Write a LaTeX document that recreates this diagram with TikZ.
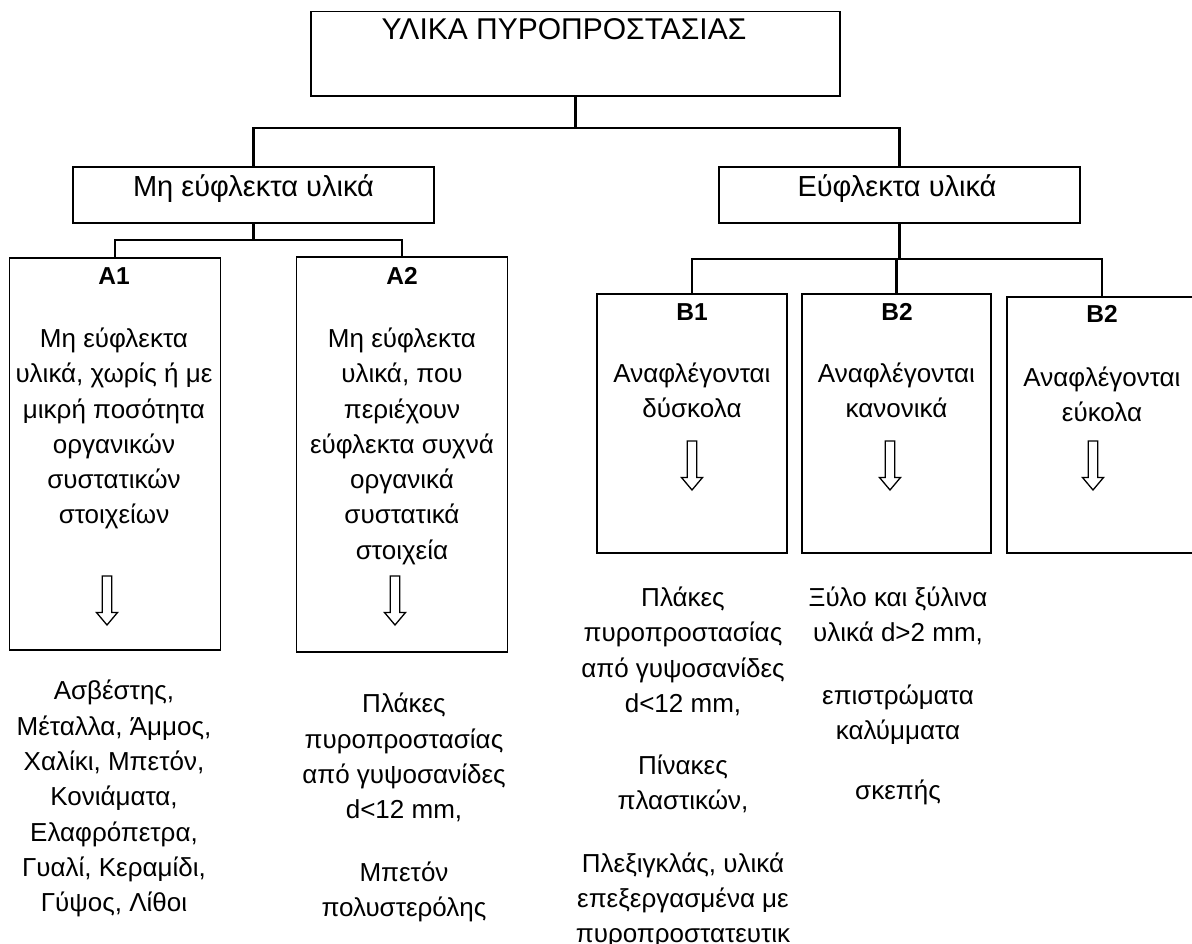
\documentclass[tikz,border=0pt]{standalone}
\usepackage{fontspec}
\setmainfont{Liberation Sans}
\begin{document}
\begin{tikzpicture}[x=1pt,y=-1pt,
  box/.style={draw, line width=1.6pt, inner sep=0pt},
  conn/.style={line width=2.1pt},
  txt/.style={font=\fontsize{26}{35.3}\selectfont, align=center, inner sep=0pt, anchor=north},
  one/.style={font=\fontsize{26}{35}\selectfont, inner sep=0pt, anchor=base},
  big/.style={font=\fontsize{29}{35}\selectfont, inner sep=0pt, anchor=base},
  lbl/.style={font=\bfseries\fontsize{24.5}{30}\selectfont, inner sep=0pt, anchor=base},
  hollowarrow/.pic={\draw[line width=1.3pt, line join=miter]
    (-4.8,0) -- (4.8,0) -- (4.8,36.5) -- (10.5,36.5) -- (0,49) -- (-10.5,36.5) -- (-4.8,36.5) -- cycle;}
]
\useasboundingbox (0,0) rectangle (1192,944);

% boxes
\node[box, minimum width=529pt, minimum height=84.3pt] (top) at (575.5,53.85) {};
\node[box, minimum width=361pt, minimum height=56pt] (mh) at (253.5,195) {};
\node[box, minimum width=361pt, minimum height=56pt] (eu) at (899.5,195) {};
\node[box, minimum width=211pt, minimum height=392pt] (a1) at (115,454) {};
\node[box, minimum width=211pt, minimum height=395pt] (a2) at (402,454.5) {};
\node[box, minimum width=190pt, minimum height=259pt] (b1) at (692,423.5) {};
\node[box, minimum width=189pt, minimum height=259pt] (b2) at (896.5,423.5) {};
\node[box, minimum width=190pt, minimum height=256pt] (b3) at (1102,425) {};

% connectors
\coordinate (j1) at (575.5,128);
\coordinate (j2) at (253.5,240);
\coordinate (j3) at (899.5,259);
\draw[conn] (top.south) -- (j1);
\draw[conn] (mh.north) |- (j1) -| (eu.north);
\draw[conn] (mh.south) -- (j2);
\draw[conn] (a1.north) |- (j2) -| (a2.north);
\draw[conn] (eu.south) -- (j3);
\draw[conn] (b1.north) |- (j3) -| (b3.north);
\draw[conn] (b2.north) -- (b2.north |- j3);

% box titles
\node[font=\fontsize{30}{36}\selectfont, inner sep=0pt, anchor=base] (ttop) at (564,40) {ΥΛΙΚΑ ΠΥΡΟΠΡΟΣΤΑΣΙΑΣ};
\node[big] (tmh) at (253.5,197) {Μη εύφλεκτα υλικά};
\node[big] (teu) at (897,197) {Εύφλεκτα υλικά};

% labels
\node[lbl] (la1) at (114,284) {A1};
\node[lbl] (la2) at (402,284) {A2};
\node[lbl] (lb1) at (692,320) {B1};
\node[lbl] (lb2) at (897,320) {B2};
\node[lbl] (lb3) at (1102,322) {B2};

% inner texts
\node[txt] (ia1) at (114,322.5) {\strut Μη εύφλεκτα\\υλικά, χωρίς ή με\\μικρή ποσότητα\\οργανικών\\συστατικών\\στοιχείων};
\node[txt] (ia2) at (402,322.5) {\strut Μη εύφλεκτα\\υλικά, που\\περιέχουν\\εύφλεκτα συχνά\\οργανικά\\συστατικά\\στοιχεία};
\node[txt] (ib1) at (692,357.5) {\strut Αναφλέγονται\\δύσκολα};
\node[txt] (ib2) at (896.5,357.5) {\strut Αναφλέγονται\\κανονικά};
\node[txt] (ib3) at (1102,361.5) {\strut Αναφλέγονται\\εύκολα};

% arrows
\pic at (107,576) {hollowarrow};
\pic at (395,576) {hollowarrow};
\pic at (692,441) {hollowarrow};
\pic at (890,441) {hollowarrow};
\pic at (1093,441) {hollowarrow};

% outer texts
\node[txt] (oa1) at (114,675) {\strut Ασβέστης,\\Μέταλλα, Άμμος,\\Χαλίκι, Μπετόν,\\Κονιάματα,\\Ελαφρόπετρα,\\Γυαλί, Κεραμίδι,\\Γύψος, Λίθοι};
\node[txt] (oa2) at (404,688) {\strut Πλάκες\\πυροπροστασίας\\από γυψοσανίδες\\d<12 mm,\\[27pt]Μπετόν\\πολυστερόλης};
\node[txt] (ob1) at (683,581.5) {\strut Πλάκες\\πυροπροστασίας\\από γυψοσανίδες\\d<12 mm,\\[27pt]Πίνακες\\πλαστικών,\\[27pt]Πλεξιγκλάς, υλικά\\επεξεργασμένα με\\πυροπροστατευτικ};
\node[txt] (ob2) at (898,581.5) {\strut Ξύλο και ξύλινα\\υλικά d>2 mm,\\[27pt]επιστρώματα\\καλύμματα\\[25pt]σκεπής};
\end{tikzpicture}
\end{document}
